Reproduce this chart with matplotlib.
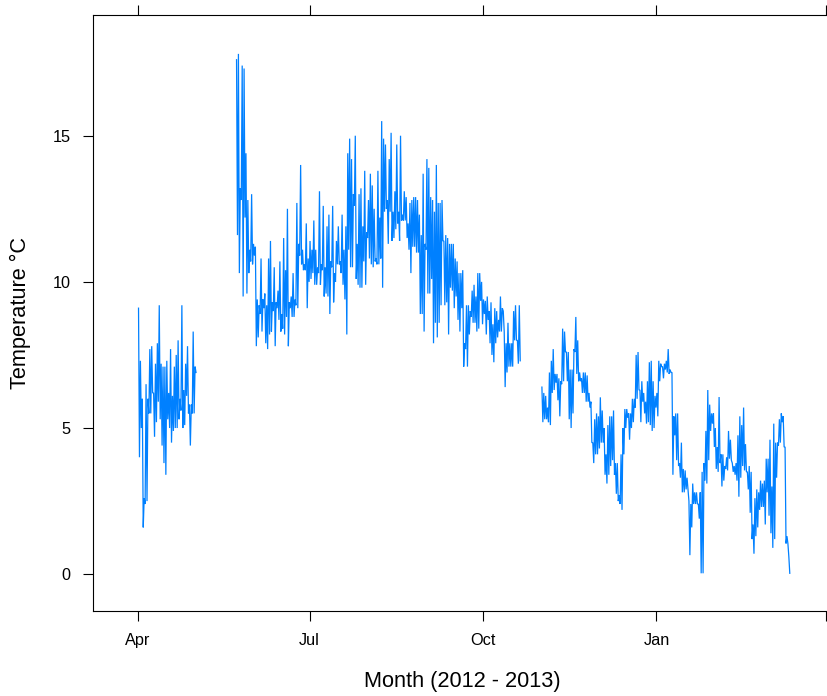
import numpy as np
import matplotlib
matplotlib.use("Agg")
import matplotlib.pyplot as plt

plt.rcParams['font.family'] = ['Liberation Sans', 'DejaVu Sans']

# ---- data: daily max / min temperature (deg C) ----
base_date = np.datetime64('2012-04-01')

seg1_start = '2012-04-01'
seg1_max = [9.1, 7.3, 6.0, 2.6, 6.5, 6.0, 7.7, 7.8, 6.2, 7.2, 7.9, 9.2, 7.2, 7.1, 7.1, 7.3,
            6.2, 7.7, 6.1, 7.1, 7.5, 8.0, 6.0, 9.2, 6.3, 7.2, 7.8, 5.8, 5.8, 8.3, 7.1]
seg1_min = [4.0, 5.0, 1.6, 2.4, 2.5, 5.5, 5.5, 6.2, 4.7, 5.2, 5.9, 5.3, 4.4, 3.8, 3.4, 5.3,
            5.0, 4.5, 4.9, 5.0, 5.0, 5.3, 5.6, 5.0, 5.1, 6.1, 5.5, 4.4, 5.5, 5.5, 6.9]

seg2_start = '2012-05-23'
seg2_max = [17.6, 17.8, 13.2, 17.4, 17.3, 14.4, 12.8, 11.1, 13.0, 11.3, 11.2, 9.4, 9.2, 10.8, 9.4, 9.6,
            9.2, 10.8, 11.4, 9.3, 10.5, 9.3, 9.7, 10.7, 8.9, 11.5, 10.4, 12.5, 9.3, 9.5, 10.3, 9.4,
            12.7, 11.3, 14.0, 11.1, 10.6, 12.0, 10.8, 11.4, 11.1, 12.1, 11.1, 10.5, 13.1, 10.6, 12.6, 10.5,
            11.9, 12.3, 10.7, 12.6, 10.3, 11.4, 11.9, 10.7, 12.3, 11.1, 11.9, 14.4, 14.9, 14.2, 13.0, 15.0,
            11.3, 13.0, 13.2, 11.9, 13.8, 11.7, 12.8, 13.7, 13.3, 12.5, 10.8, 13.8, 12.2, 15.5, 14.9, 14.7,
            12.8, 14.2, 15.1, 12.4, 13.1, 14.7, 12.4, 15.0, 12.3, 13.1, 12.9, 12.0, 12.7, 12.8, 12.9, 12.9,
            12.8, 12.3, 11.6, 13.7, 11.3, 14.2, 13.9, 12.9, 12.8, 12.4, 14.0, 12.7, 12.7, 12.8, 11.4, 11.6,
            11.5, 11.3, 11.3, 11.3, 10.8, 10.7, 10.3, 10.3, 10.4, 7.9, 9.2, 9.2, 9.0, 9.7, 9.9, 9.5,
            10.3, 10.3, 10.0, 9.4, 9.35, 9.5, 9.0, 9.3, 8.55, 9.1, 9.0, 8.7, 9.5, 9.1, 8.3, 7.9,
            8.6, 7.9, 7.9, 9.0, 9.2, 8.0, 9.2]
seg2_min = [11.6, 10.3, 12.8, 9.5, 12.2, 9.6, 10.3, 10.7, 10.6, 10.9, 7.8, 8.1, 8.9, 8.3, 9.1, 7.9,
            7.7, 8.2, 8.3, 9.0, 7.8, 9.1, 8.7, 8.3, 8.4, 8.2, 8.8, 7.8, 9.1, 8.8, 8.8, 9.2,
            9.1, 10.9, 10.6, 10.4, 10.4, 9.1, 10.0, 10.1, 10.3, 9.9, 9.9, 10.3, 9.9, 10.4, 9.5, 9.6,
            9.5, 8.9, 10.5, 9.3, 10.0, 10.6, 10.6, 10.3, 9.9, 9.4, 8.2, 11.1, 10.5, 10.5, 12.6, 10.1,
            9.9, 9.8, 9.8, 10.7, 9.9, 11.5, 10.8, 10.6, 10.5, 10.7, 10.6, 10.6, 10.8, 9.8, 12.4, 12.5,
            11.3, 12.4, 11.4, 11.5, 11.8, 12.0, 11.4, 12.1, 12.1, 12.1, 11.5, 11.1, 10.3, 11.2, 11.2, 11.0,
            11.0, 8.9, 8.9, 8.3, 11.1, 9.6, 9.6, 10.1, 7.9, 8.6, 8.1, 8.6, 9.2, 11.4, 9.2, 9.3,
            8.2, 9.8, 9.7, 9.1, 9.5, 8.7, 8.3, 9.1, 7.1, 7.7, 7.1, 8.2, 8.8, 8.6, 8.6, 8.3,
            8.4, 9.35, 8.55, 8.9, 8.2, 8.7, 7.9, 7.5, 7.25, 7.9, 8.1, 8.3, 8.3, 9.0, 6.4, 6.9,
            7.1, 7.1, 7.1, 8.0, 8.0, 7.2, 7.3]

seg3_start = '2012-11-01'
seg3_max = [6.4, 6.2, 6.1, 5.7, 6.9, 7.3, 7.7, 6.85, 6.85, 6.7, 6.6, 8.4, 8.3, 7.6, 7.6, 7.0,
            7.0, 7.7, 8.8, 8.0, 6.9, 6.7, 6.9, 6.9, 6.8, 6.2, 5.9, 4.5, 5.3, 5.5, 5.4, 6.05,
            5.6, 5.0, 4.1, 5.1, 5.4, 5.4, 5.6, 3.8, 3.8, 2.7, 4.1, 5.0, 5.65, 5.65, 5.5, 5.5,
            6.0, 6.0, 7.5, 7.6, 6.3, 6.6, 6.2, 5.9, 6.6, 7.25, 7.3, 6.6, 6.1, 6.2, 7.3, 7.2,
            7.1, 7.2, 7.3, 7.7, 7.0, 6.9, 5.4, 5.5, 5.5, 3.8, 4.5, 3.6, 3.55, 3.3, 2.5, 2.4,
            3.1, 2.8, 2.8, 2.4, 2.8, 3.5, 3.8, 4.9, 6.3, 5.8, 5.5, 5.5, 5.0, 4.35, 6.06, 4.1,
            4.1, 3.7, 4.0, 4.9, 4.6, 3.8, 3.7, 3.8, 4.75, 5.4, 5.1, 5.7, 4.45, 3.5, 3.7, 3.5,
            1.7, 2.6, 2.9, 2.8, 3.2, 3.1, 3.2, 3.95, 3.95, 4.6, 3.0, 5.15, 4.5, 4.5, 5.3, 5.5,
            5.4, 4.35, 1.3, 0.6]
seg3_min = [5.2, 5.3, 5.3, 5.2, 5.1, 6.2, 6.3, 6.55, 5.95, 5.4, 6.5, 6.6, 7.6, 6.6, 5.3, 5.0,
            5.5, 7.6, 6.85, 6.6, 6.6, 6.2, 6.2, 5.9, 5.9, 5.7, 4.5, 3.8, 4.1, 4.1, 4.3, 4.5,
            4.5, 3.4, 3.1, 3.4, 3.7, 3.9, 3.4, 2.75, 2.5, 2.4, 2.2, 4.1, 5.0, 5.35, 4.6, 5.0,
            5.2, 5.7, 6.0, 6.3, 5.2, 5.9, 5.5, 5.15, 5.2, 5.1, 4.9, 5.0, 5.7, 5.4, 6.6, 7.1,
            6.7, 7.0, 6.9, 6.85, 6.9, 3.4, 4.75, 3.9, 3.7, 3.3, 2.8, 2.8, 2.9, 2.9, 0.65, 1.6,
            2.4, 2.4, 2.4, 1.9, 0.03, 0.03, 3.2, 3.1, 3.9, 4.9, 5.15, 4.35, 3.6, 3.5, 3.8, 3.0,
            3.2, 3.6, 3.55, 3.95, 3.9, 3.5, 3.4, 3.2, 2.65, 3.3, 3.7, 3.55, 3.5, 2.9, 2.1, 1.2,
            0.7, 1.3, 1.6, 2.2, 2.3, 2.3, 1.7, 2.8, 2.0, 1.4, 0.9, 1.2, 3.3, 4.4, 4.5, 5.2,
            4.35, 1.05, 1.05, 0.03]

tick_dates = ['2012-04-01', '2012-07-01', '2012-10-01', '2013-01-01', '2013-04-01']
tick_labels = ['Apr', 'Jul', 'Oct', 'Jan', '']
y_ticks = [0, 5, 10, 15]


def day_of(s):
    return int((np.datetime64(s) - base_date).astype(int))


W, H = 828, 696
fig = plt.figure(figsize=(W / 100, H / 100), dpi=100)
ax = fig.add_axes([93 / W, 1 - 611 / H, (837 - 93) / W, (611 - 15) / H])

for start, mx, mn in [(seg1_start, seg1_max, seg1_min),
                      (seg2_start, seg2_max, seg2_min),
                      (seg3_start, seg3_max, seg3_min)]:
    d = day_of(start) + np.arange(len(mx))
    t = np.empty(2 * len(mx))
    v = np.empty(2 * len(mx))
    t[0::2] = d + 0.25
    t[1::2] = d + 0.75
    v[0::2] = mx
    v[1::2] = mn
    ax.plot(t, v, color='#0080ff', lw=0.9, solid_joinstyle='miter')

ax.set_xlim(-23.9, 370.8)
ax.set_ylim(-1.26, 19.13)
ax.set_xticks([day_of(s) for s in tick_dates])
ax.set_xticklabels(tick_labels)
ax.set_yticks(y_ticks)
ax.set_yticklabels([str(v) for v in y_ticks])

for s in ax.spines.values():
    s.set_linewidth(0.8)
    s.set_color('black')

ax.tick_params(axis='both', direction='out', length=7.5, width=0.8, colors='black',
               labelsize=11.7, top=True, right=True, labeltop=False, labelright=False)
ax.tick_params(axis='y', pad=8.5)
ax.tick_params(axis='x', pad=8.0)

fig.text(462.5 / W, 1 - 681 / H, 'Month (2012 - 2013)', ha='center', va='center',
         fontsize=15.7, color='black')
fig.text(20 / W, 1 - 313 / H, 'Temperature °C', ha='center', va='center',
         rotation=90, fontsize=15.7, color='black')

fig.savefig('out.png', dpi=100)
